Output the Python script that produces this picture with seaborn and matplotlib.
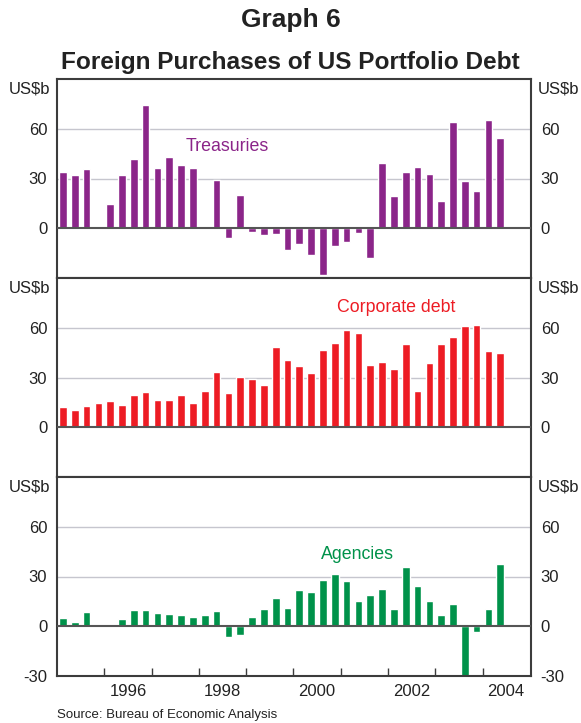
import matplotlib
matplotlib.use("Agg")
import matplotlib.pyplot as plt
import pandas as pd
import seaborn as sns

# quarterly data, 1995 Q1 to 2004 Q2, US$ billion
quarters = [f"{y}Q{q}" for y in range(1995, 2005) for q in range(1, 5)][:38]

treasuries = [34.2, 32.4, 36.0, 0.5, 14.9, 32.4, 41.5, 74.1, 36.6, 42.7,
              37.9, 36.6, 1.0, 28.8, -6.0, 20.3, -2.4, -4.2, -3.6, -13.3,
              -9.7, -16.3, -28.4, -10.9, -8.5, -3.0, -18.1, 39.1, 19.7, 34.2,
              37.2, 33.0, 16.7, 63.8, 28.2, 22.7, 65.0, 54.2]

corporate = [12.2, 10.4, 12.9, 14.7, 15.9, 13.5, 19.5, 21.3, 16.5, 16.5,
             19.5, 14.7, 21.9, 33.3, 20.7, 30.3, 29.1, 25.5, 48.4, 40.6,
             36.9, 32.7, 46.6, 50.8, 58.6, 56.8, 37.6, 39.4, 35.1, 50.2,
             21.9, 38.8, 50.2, 54.4, 61.0, 61.6, 46.0, 44.8]

agencies = [4.8, 2.4, 8.4, 0.3, 0.3, 4.2, 9.6, 9.6, 7.8, 7.2,
            6.6, 5.4, 6.6, 9.0, -6.4, -5.2, 5.4, 10.2, 16.9, 10.8,
            21.7, 20.5, 27.7, 31.3, 27.1, 15.1, 18.7, 22.3, 10.2, 35.5,
            24.1, 15.1, 6.6, 13.3, -34.0, -3.6, 10.2, 37.3]

year_labels = ["1996", "1998", "2000", "2002", "2004"]

series_names = ["Treasuries", "Corporate debt", "Agencies"]
series_colors = ["#8b2589", "#ed1c24", "#00924a"]
label_pos = [(13.9, 49.5), (28.2, 72.5), (24.9, 43.5)]

df = pd.DataFrame({
    "quarter": quarters,
    "Treasuries": treasuries,
    "Corporate debt": corporate,
    "Agencies": agencies,
})

sns.set_style("white")
plt.rcParams["font.family"] = ["Liberation Sans", "DejaVu Sans"]

W, H = 581, 723
fig = plt.figure(figsize=(W / 100, H / 100), dpi=100)

left_px, right_px, top_px, bottom_px = 57, 531, 79, 676
panel_h = (bottom_px - top_px) / 3
frame_col = "#3c3c3c"
text_col = "#222222"

axes = []
for i, name in enumerate(series_names):
    y0 = top_px + (i + 1) * panel_h
    ax = fig.add_axes([left_px / W, 1 - y0 / H, (right_px - left_px) / W, panel_h / H])
    axes.append(ax)

    for g in (30, 60):
        ax.axhline(g, color="#c6c6ce", lw=1.0, zorder=0)

    sns.barplot(data=df, x="quarter", y=name, color=series_colors[i],
                width=0.65, saturation=1, ax=ax, zorder=2)
    ax.axhline(0, color="#555555", lw=1.5, zorder=3)

    ax.set_xlim(-0.5, 39.6)
    ax.set_ylim(-30, 90)
    ax.set_xlabel("")
    ax.set_ylabel("")

    for s in ax.spines.values():
        s.set_color(frame_col)
        s.set_linewidth(1.5)
        s.set_visible(True)

    ticks = [-30, 0, 30, 60] if i == 2 else [0, 30, 60]
    ax.set_yticks(ticks)
    ax.set_yticklabels([str(t) for t in ticks])
    ax.tick_params(axis="y", length=0, pad=7, labelsize=12,
                   labelcolor=text_col, labelright=True, right=False)

    ax.text(-0.014, 0.985, "US$b", transform=ax.transAxes, ha="right",
            va="top", fontsize=12, color=text_col)
    ax.text(1.014, 0.985, "US$b", transform=ax.transAxes, ha="left",
            va="top", fontsize=12, color=text_col)

    lx, ly = label_pos[i]
    ax.text(lx, ly, name, ha="center", va="center", fontsize=12.8,
            color=series_colors[i])

    if i < 2:
        ax.set_xticks([])
    else:
        ax.set_xticks([3.5 + 4 * k for k in range(9)])
        ax.set_xticklabels([])
        ax.set_xticks([5.5 + 8 * k for k in range(5)], minor=True)
        ax.set_xticklabels(year_labels, minor=True)
        ax.tick_params(axis="x", which="major", direction="in", length=6,
                       width=1, color=frame_col, bottom=True)
        ax.tick_params(axis="x", which="minor", length=0, pad=6,
                       labelsize=12, labelcolor=text_col)

fig.text(0.5, 1 - 27 / H, "Graph 6", ha="center", va="baseline",
         fontsize=19, fontweight="bold", color=text_col)
fig.text(0.5, 1 - 69 / H, "Foreign Purchases of US Portfolio Debt",
         ha="center", va="baseline", fontsize=17.6, fontweight="bold",
         color=text_col)
fig.text(left_px / W, 1 - 715 / H, "Source: Bureau of Economic Analysis",
         ha="left", va="center", fontsize=9.5, color=text_col)

fig.savefig("out.png", dpi=100)
